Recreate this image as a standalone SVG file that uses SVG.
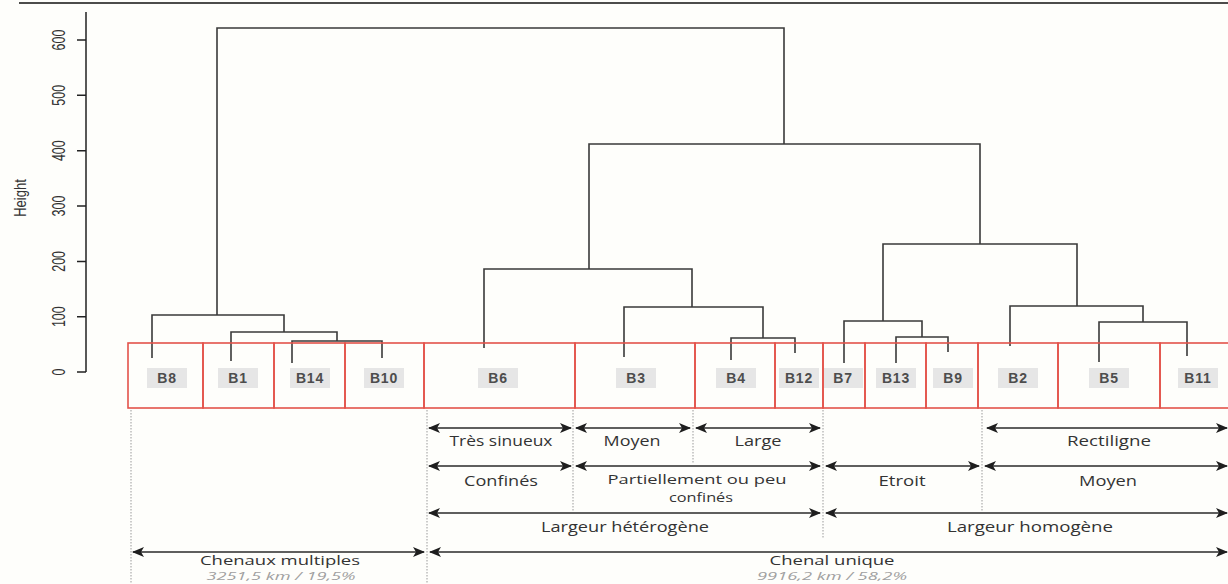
<svg xmlns="http://www.w3.org/2000/svg" width="1228" height="584" viewBox="0 0 1228 584">
<defs>
<style>
.bg{fill:#fefefb}
.tree{fill:none;stroke:#3a3a3a;stroke-width:1.6}
.axis{fill:none;stroke:#222;stroke-width:1.5}
.tick{font-family:"Liberation Sans",Arial,sans-serif;font-size:12.5px;fill:#333;text-anchor:middle}
.box{fill:none;stroke:#e3534a;stroke-width:1.6}
.lab{fill:#e6e6e6}
.lt{font-family:"Liberation Sans",Arial,sans-serif;font-weight:bold;font-size:14px;fill:#4d4d4d;text-anchor:middle;letter-spacing:0.8px}
.arr{stroke:#2a2a2a;stroke-width:1.6;fill:none;marker-start:url(#ah);marker-end:url(#ah)}
.dot{stroke:#9a9a9a;stroke-width:1;stroke-dasharray:1.5 1.5;fill:none}
.at{font-family:"Open Sans","Liberation Sans",sans-serif;font-size:14px;fill:#333;text-anchor:middle}
.sub{font-family:"Open Sans","Liberation Sans",sans-serif;font-size:11px;font-style:italic;fill:#a0a0a0;text-anchor:middle}
</style>
<marker id="ah" viewBox="0 0 12 10" refX="11" refY="5" markerWidth="12" markerHeight="10" markerUnits="userSpaceOnUse" orient="auto-start-reverse">
<path d="M0,0 L12,5 L0,10 L3,5 z" fill="#1e1e1e"/>
</marker>
</defs>
<rect class="bg" x="0" y="0" width="1228" height="584"/>
<line x1="19" y1="3" x2="1228" y2="3" stroke="#111" stroke-width="1.6"/>

<g id="axis">
<path class="axis" d="M86,12 V372 M77,372 H86 M77,316.7 H86 M77,261.4 H86 M77,206 H86 M77,150.7 H86 M77,95.3 H86 M77,40 H86"/>
<text class="tick" transform="translate(65,372) rotate(-90) scale(1,1.45)">0</text>
<text class="tick" transform="translate(65,316.7) rotate(-90) scale(1,1.45)">100</text>
<text class="tick" transform="translate(65,261.4) rotate(-90) scale(1,1.45)">200</text>
<text class="tick" transform="translate(65,206) rotate(-90) scale(1,1.45)">300</text>
<text class="tick" transform="translate(65,150.7) rotate(-90) scale(1,1.45)">400</text>
<text class="tick" transform="translate(65,95.3) rotate(-90) scale(1,1.45)">500</text>
<text class="tick" transform="translate(65,40) rotate(-90) scale(1,1.45)">600</text>
<text class="tick" transform="translate(26,198) rotate(-90) scale(1,1.2)" style="font-size:13px">Height</text>
</g>

<g id="connectors">
<path class="tree" d="M217,315 V28 H784 V144"/>
<path class="tree" d="M152,358 V315 H284 V332"/>
<path class="tree" d="M231,361 V332 H337 V341"/>
<path class="tree" d="M292,363 V341 H382 V358"/>
<path class="tree" d="M589,269 V144 H980 V244"/>
<path class="tree" d="M484,348 V269 H692 V307"/>
<path class="tree" d="M624,357 V307 H763 V338"/>
<path class="tree" d="M731,360 V338 H795 V353"/>
<path class="tree" d="M883,321 V244 H1077 V306"/>
<path class="tree" d="M844,363 V321 H922 V337"/>
<path class="tree" d="M896,363 V337 H948 V352"/>
<path class="tree" d="M1010,346 V306 H1143 V322"/>
<path class="tree" d="M1099,362 V322 H1187 V356"/>
</g>

<g id="B8"><rect class="box" x="128" y="343" width="75" height="65"/><rect class="lab" x="147" y="368" width="40" height="20"/><text class="lt" x="167" y="383">B8</text></g>
<g id="B1"><rect class="box" x="203" y="343" width="71" height="65"/><rect class="lab" x="218" y="368" width="40" height="20"/><text class="lt" x="238" y="383">B1</text></g>
<g id="B14"><rect class="box" x="274" y="343" width="71" height="65"/><rect class="lab" x="290" y="368" width="40" height="20"/><text class="lt" x="310" y="383">B14</text></g>
<g id="B10"><rect class="box" x="345" y="343" width="79" height="65"/><rect class="lab" x="364" y="368" width="40" height="20"/><text class="lt" x="384" y="383">B10</text></g>
<g id="B6"><rect class="box" x="424" y="343" width="151" height="65"/><rect class="lab" x="478" y="368" width="40" height="20"/><text class="lt" x="498" y="383">B6</text></g>
<g id="B3"><rect class="box" x="575" y="343" width="120" height="65"/><rect class="lab" x="616" y="368" width="40" height="20"/><text class="lt" x="636" y="383">B3</text></g>
<g id="B4"><rect class="box" x="695" y="343" width="80" height="65"/><rect class="lab" x="716" y="368" width="40" height="20"/><text class="lt" x="736" y="383">B4</text></g>
<g id="B12"><rect class="box" x="775" y="343" width="48" height="65"/><rect class="lab" x="779" y="368" width="40" height="20"/><text class="lt" x="799" y="383">B12</text></g>
<g id="B7"><rect class="box" x="823" y="343" width="42" height="65"/><rect class="lab" x="824" y="368" width="39" height="20"/><text class="lt" x="843" y="383">B7</text></g>
<g id="B13"><rect class="box" x="865" y="343" width="61" height="65"/><rect class="lab" x="876" y="368" width="40" height="20"/><text class="lt" x="896" y="383">B13</text></g>
<g id="B9"><rect class="box" x="926" y="343" width="52" height="65"/><rect class="lab" x="933" y="368" width="40" height="20"/><text class="lt" x="953" y="383">B9</text></g>
<g id="B2"><rect class="box" x="978" y="343" width="80" height="65"/><rect class="lab" x="998" y="368" width="40" height="20"/><text class="lt" x="1018" y="383">B2</text></g>
<g id="B5"><rect class="box" x="1058" y="343" width="102" height="65"/><rect class="lab" x="1089" y="368" width="40" height="20"/><text class="lt" x="1109" y="383">B5</text></g>
<g id="B11"><rect class="box" x="1160" y="343" width="72" height="65"/><rect class="lab" x="1178" y="368" width="40" height="20"/><text class="lt" x="1198" y="383">B11</text></g>

<g id="annotations">
<path class="dot" d="M131,410 V584 M427,410 V584 M573,410 V512 M693,410 V463 M823,410 V538 M982,410 V512"/>
<line class="arr" x1="429" y1="428" x2="571" y2="428"/>
<line class="arr" x1="576" y1="428" x2="690" y2="428"/>
<line class="arr" x1="696" y1="428" x2="820" y2="428"/>
<line class="arr" x1="987" y1="428" x2="1227" y2="428"/>
<line class="arr" x1="429" y1="466" x2="571" y2="466"/>
<line class="arr" x1="576" y1="466" x2="820" y2="466"/>
<line class="arr" x1="826" y1="466" x2="979" y2="466"/>
<line class="arr" x1="985" y1="466" x2="1227" y2="466"/>
<line class="arr" x1="429" y1="513" x2="820" y2="513"/>
<line class="arr" x1="826" y1="513" x2="1227" y2="513"/>
<line class="arr" x1="133" y1="552" x2="424" y2="552"/>
<line class="arr" x1="430" y1="552" x2="1227" y2="552"/>
<text class="at" x="501" y="446" textLength="103" lengthAdjust="spacingAndGlyphs">Très sinueux</text>
<text class="at" x="632" y="446" textLength="57" lengthAdjust="spacingAndGlyphs">Moyen</text>
<text class="at" x="758" y="446" textLength="47" lengthAdjust="spacingAndGlyphs">Large</text>
<text class="at" x="1109" y="446" textLength="84" lengthAdjust="spacingAndGlyphs">Rectiligne</text>
<text class="at" x="501" y="486" textLength="74" lengthAdjust="spacingAndGlyphs">Confinés</text>
<text class="at" x="697" y="484" textLength="179" lengthAdjust="spacingAndGlyphs" style="font-size:13px">Partiellement ou peu</text>
<text class="at" x="701" y="502" textLength="64" lengthAdjust="spacingAndGlyphs" style="font-size:13px">confinés</text>
<text class="at" x="902" y="486" textLength="47" lengthAdjust="spacingAndGlyphs">Etroit</text>
<text class="at" x="1108" y="486" textLength="58" lengthAdjust="spacingAndGlyphs">Moyen</text>
<text class="at" x="625" y="532" textLength="168" lengthAdjust="spacingAndGlyphs">Largeur hétérogène</text>
<text class="at" x="1030" y="532" textLength="166" lengthAdjust="spacingAndGlyphs">Largeur homogène</text>
<text class="at" x="280" y="565" textLength="160" lengthAdjust="spacingAndGlyphs" style="font-size:13px">Chenaux multiples</text>
<text class="at" x="832" y="565" textLength="125" lengthAdjust="spacingAndGlyphs" style="font-size:13px">Chenal unique</text>
<text class="sub" x="281" y="580" textLength="149" lengthAdjust="spacingAndGlyphs">3251,5 km / 19,5%</text>
<text class="sub" x="832" y="580" textLength="150" lengthAdjust="spacingAndGlyphs">9916,2 km / 58,2%</text>
</g>
</svg>
